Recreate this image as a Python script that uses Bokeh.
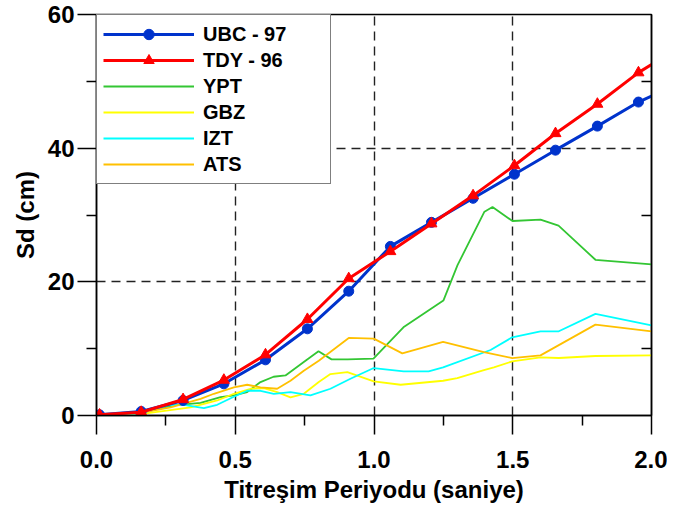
from bokeh.plotting import figure
from bokeh.models import FixedTicker, PrintfTickFormatter, LinearAxis, Legend, LegendItem, Range1d
from bokeh.embed import file_html
from bokeh.resources import INLINE

# ---- data ----
ubc_x = [0.011, 0.161, 0.312, 0.459, 0.609, 0.760, 0.909, 1.059, 1.207, 1.357, 1.506, 1.654, 1.805, 1.953, 2.0]
ubc_y = [0.1, 0.6, 2.25, 4.74, 8.33, 12.97, 18.6, 25.3, 28.9, 32.5, 36.1, 39.7, 43.3, 46.9, 47.8]

tdy_x = [0.011, 0.161, 0.312, 0.459, 0.609, 0.760, 0.909, 1.059, 1.207, 1.357, 1.506, 1.654, 1.805, 1.953, 2.0]
tdy_y = [0.1, 0.5, 2.4, 5.3, 9.1, 14.4, 20.5, 24.55, 28.7, 32.9, 37.4, 42.2, 46.6, 51.3, 52.5]

ypt_x = [0.011, 0.159, 0.277, 0.375, 0.447, 0.495, 0.543, 0.591, 0.638, 0.681, 0.747, 0.800,
         0.847, 0.905, 0.998, 1.106, 1.250, 1.301, 1.398, 1.427, 1.499, 1.600, 1.665, 1.798, 2.0]
ypt_y = [0.0, 0.4, 1.5, 1.9, 2.75, 3.0, 3.5, 5.0, 5.8, 6.0, 8.0, 9.6,
         8.4, 8.4, 8.5, 13.2, 17.2, 22.5, 30.5, 31.2, 29.1, 29.3, 28.4, 23.3, 22.6]

gbz_x = [0.011, 0.159, 0.339, 0.435, 0.495, 0.555, 0.603, 0.651, 0.699, 0.747, 0.801, 0.843,
         0.904, 0.999, 1.096, 1.249, 1.300, 1.396, 1.432, 1.498, 1.600, 1.666, 1.798, 2.0]
gbz_y = [0.0, 0.2, 1.2, 2.25, 3.25, 4.0, 4.1, 3.5, 2.7, 3.25, 5.0, 6.2,
         6.5, 5.1, 4.6, 5.2, 5.6, 6.8, 7.2, 8.1, 8.7, 8.6, 8.9, 9.0]

izt_x = [0.011, 0.159, 0.255, 0.315, 0.387, 0.435, 0.495, 0.543, 0.591, 0.639, 0.699, 0.771,
         0.843, 0.915, 0.999, 1.107, 1.197, 1.249, 1.420, 1.498, 1.600, 1.666, 1.798, 2.0]
izt_y = [0.0, 0.3, 1.5, 1.6, 1.1, 1.6, 2.8, 3.7, 3.7, 3.25, 3.5, 3.0,
         4.0, 5.5, 7.1, 6.6, 6.6, 7.2, 9.8, 11.7, 12.6, 12.6, 15.2, 13.5]

ats_x = [0.011, 0.159, 0.267, 0.375, 0.423, 0.495, 0.543, 0.591, 0.651, 0.699, 0.747, 0.801,
         0.909, 0.999, 1.102, 1.249, 1.396, 1.498, 1.600, 1.798, 2.0]
ats_y = [0.0, 0.4, 1.2, 2.5, 3.25, 4.2, 4.6, 4.2, 4.0, 5.2, 6.7, 8.2,
         11.6, 11.5, 9.3, 11.0, 9.5, 8.6, 9.0, 13.6, 12.6]

x_major = [0.0, 0.5, 1.0, 1.5, 2.0]
x_minor = [0.25, 0.75, 1.25, 1.75]
y_major = [0, 20, 40, 60]
y_minor = [10, 30, 50]
x_grid = [0.5, 1.0, 1.5]
y_grid = [20, 40]

FONT = "Liberation Sans"

p = figure(width=667, height=506, output_backend="svg", toolbar_location=None,
           x_range=Range1d(0, 2.0), y_range=Range1d(0, 60),
           min_border_left=96, min_border_right=16, min_border_top=14, min_border_bottom=91)

p.outline_line_color = "black"
p.outline_line_width = 1.5
p.background_fill_color = "white"
p.border_fill_color = "white"

# grid
p.xgrid.ticker = FixedTicker(ticks=x_grid)
p.ygrid.ticker = FixedTicker(ticks=y_grid)
for g in (p.xgrid, p.ygrid):
    g.grid_line_color = "#222222"
    g.grid_line_dash = "9 6"
    g.grid_line_width = 1.4

# axes
xa = p.xaxis[0]
xa.ticker = FixedTicker(ticks=x_major, minor_ticks=x_minor)
xa.formatter = PrintfTickFormatter(format="%.1f")
ya = p.yaxis[0]
ya.ticker = FixedTicker(ticks=y_major, minor_ticks=y_minor)
for ax in (xa, ya):
    ax.axis_line_color = "black"
    ax.axis_line_width = 1.5
    ax.major_tick_line_color = "black"
    ax.minor_tick_line_color = "black"
    ax.major_tick_line_width = 1.5
    ax.minor_tick_line_width = 1.5
    ax.major_tick_in = 0
    ax.minor_tick_in = 0
    ax.major_tick_out = 19
    ax.minor_tick_out = 10
    ax.major_label_text_font = FONT
    ax.major_label_text_font_style = "bold"
    ax.major_label_text_font_size = "24px"
    ax.major_label_text_color = "black"
    ax.axis_label_text_font = FONT
    ax.axis_label_text_font_style = "bold"
    ax.axis_label_text_font_size = "24px"
    ax.axis_label_text_color = "black"

xa.axis_label = "Titreşim Periyodu (saniye)"
xa.major_label_standoff = 16
xa.axis_label_standoff = 5
ya.axis_label = "Sd (cm)"
ya.major_label_standoff = 3
ya.axis_label_standoff = 6

ra = LinearAxis(ticker=FixedTicker(ticks=[], minor_ticks=y_minor))
ra.axis_line_color = "black"
ra.axis_line_width = 1.5
ra.major_tick_in = 0
ra.major_tick_out = 0
ra.minor_tick_in = 10
ra.minor_tick_out = 0
ra.minor_tick_line_color = "black"
ra.minor_tick_line_width = 1.5
p.add_layout(ra, "right")

# series
r_ypt = p.line(ypt_x, ypt_y, line_color="#33c633", line_width=1.8)
r_gbz = p.line(gbz_x, gbz_y, line_color="#ffff00", line_width=1.8)
r_izt = p.line(izt_x, izt_y, line_color="#00ffff", line_width=1.8)
r_ats = p.line(ats_x, ats_y, line_color="#ffc000", line_width=1.8)

r_ubc_l = p.line(ubc_x, ubc_y, line_color="#0033cc", line_width=3)
r_ubc_m = p.scatter(ubc_x[:-1], ubc_y[:-1], marker="circle", size=10,
                    fill_color="#0033cc", line_color="#0033cc")
r_tdy_l = p.line(tdy_x, tdy_y, line_color="#ff0000", line_width=3)
r_tdy_m = p.scatter(tdy_x[:-1], tdy_y[:-1], marker="triangle", size=11,
                    fill_color="#ff0000", line_color="#ff0000")

legend = Legend(items=[
    LegendItem(label="UBC - 97", renderers=[r_ubc_l, r_ubc_m]),
    LegendItem(label="TDY - 96", renderers=[r_tdy_l, r_tdy_m]),
    LegendItem(label="YPT", renderers=[r_ypt]),
    LegendItem(label="GBZ", renderers=[r_gbz]),
    LegendItem(label="IZT", renderers=[r_izt]),
    LegendItem(label="ATS", renderers=[r_ats]),
], location="top_left")
legend.margin = 0
legend.padding = 6
legend.spacing = 0
legend.glyph_width = 91
legend.glyph_height = 26
legend.label_height = 20
legend.label_width = 121
legend.label_standoff = 9
legend.label_text_font = FONT
legend.label_text_font_style = "bold"
legend.label_text_font_size = "20px"
legend.label_text_color = "black"
legend.border_line_color = "black"
legend.border_line_width = 1.5
legend.background_fill_color = "white"
legend.background_fill_alpha = 1.0
p.add_layout(legend, "center")

open("out.html", "w").write(file_html(p, INLINE))
